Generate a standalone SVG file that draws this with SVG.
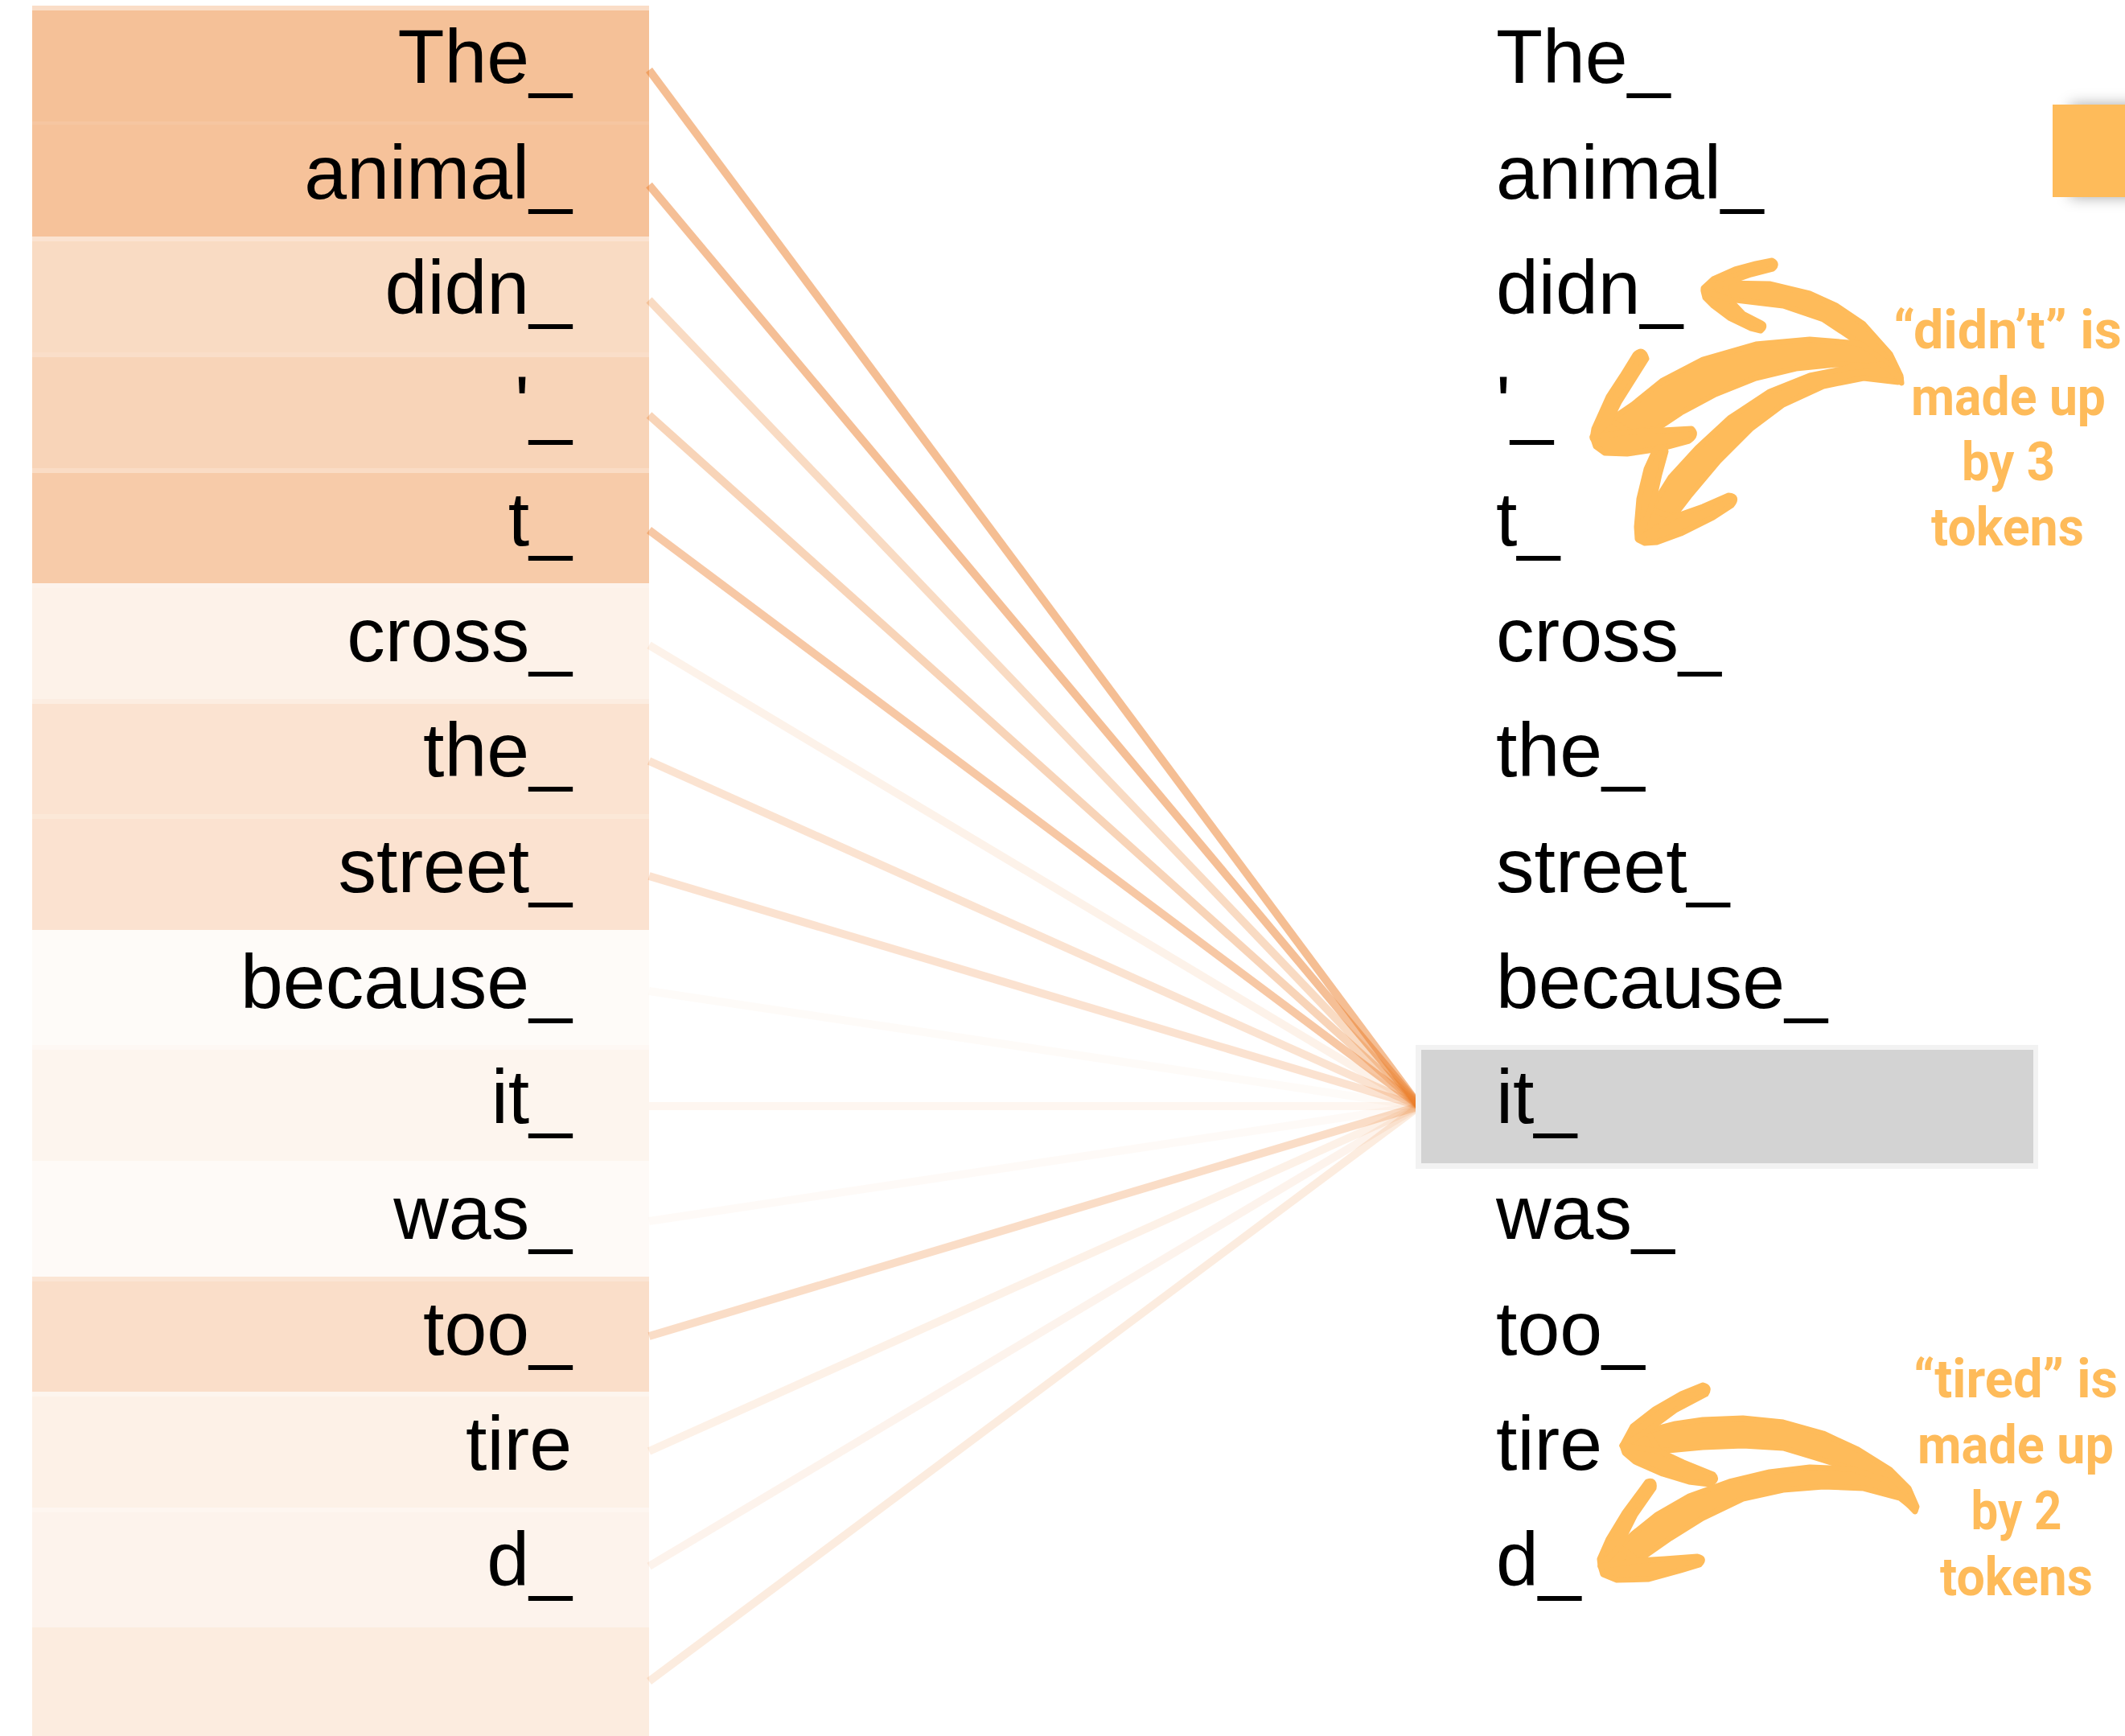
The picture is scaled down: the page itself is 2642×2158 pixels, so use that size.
<svg xmlns="http://www.w3.org/2000/svg" width="2642" height="2158" viewBox="0 0 2642 2158">
<defs>
<style>
.tok{font-family:"Liberation Sans",Arial,Helvetica,sans-serif;font-size:95px;fill:#000}
.tl{text-anchor:end}
.cell{fill:#EB7D28}
.att{stroke:#EB7D28;stroke-width:10;fill:none}
.note{font-family:Roboto,"Liberation Sans",Arial,sans-serif;font-weight:700;font-size:66px;fill:#FEBB5A;text-anchor:middle}
.arrow{fill:#FEBB5A;stroke:#FEBB5A;stroke-width:7;stroke-linejoin:round}
</style>
<filter id="shadow" x="-50%" y="-50%" width="200%" height="200%">
<feDropShadow dx="22" dy="0" stdDeviation="9" flood-color="#000" flood-opacity="0.35"/>
</filter>
</defs>
<rect width="2642" height="2158" fill="#fff"/>

<g id="attention-lines">
<line class="att" x1="807" y1="87" x2="1765" y2="1375" stroke-opacity="0.50"/>
<line class="att" x1="807" y1="230" x2="1765" y2="1375" stroke-opacity="0.49"/>
<line class="att" x1="807" y1="373" x2="1765" y2="1375" stroke-opacity="0.28"/>
<line class="att" x1="807" y1="516" x2="1765" y2="1375" stroke-opacity="0.33"/>
<line class="att" x1="807" y1="659" x2="1765" y2="1375" stroke-opacity="0.42"/>
<line class="att" x1="807" y1="802" x2="1765" y2="1375" stroke-opacity="0.10"/>
<line class="att" x1="807" y1="946" x2="1765" y2="1375" stroke-opacity="0.21"/>
<line class="att" x1="807" y1="1089" x2="1765" y2="1375" stroke-opacity="0.22"/>
<line class="att" x1="807" y1="1232" x2="1765" y2="1375" stroke-opacity="0.03"/>
<line class="att" x1="807" y1="1375" x2="1765" y2="1375" stroke-opacity="0.07"/>
<line class="att" x1="807" y1="1518" x2="1765" y2="1375" stroke-opacity="0.04"/>
<line class="att" x1="807" y1="1661" x2="1765" y2="1375" stroke-opacity="0.26"/>
<line class="att" x1="807" y1="1804" x2="1765" y2="1375" stroke-opacity="0.11"/>
<line class="att" x1="807" y1="1947" x2="1765" y2="1375" stroke-opacity="0.09"/>
<line class="att" x1="807" y1="2090" x2="1765" y2="1375" stroke-opacity="0.15"/>
</g>

<g id="left-tokens">
<g id="src-0"><rect class="cell" x="40" y="7" width="767" height="6" fill-opacity="0.26"/><rect class="cell" x="40" y="13" width="767" height="138" fill-opacity="0.48"/><text class="tok tl" x="711" y="103">The_</text></g>
<g id="src-1"><rect class="cell" x="40" y="151" width="767" height="4" fill-opacity="0.44"/><rect class="cell" x="40" y="155" width="767" height="139" fill-opacity="0.47"/><text class="tok tl" x="711" y="247">animal_</text></g>
<g id="src-2"><rect class="cell" x="40" y="294" width="767" height="6" fill-opacity="0.21"/><rect class="cell" x="40" y="300" width="767" height="138" fill-opacity="0.28"/><text class="tok tl" x="711" y="390">didn_</text></g>
<g id="src-3"><rect class="cell" x="40" y="438" width="767" height="6" fill-opacity="0.25"/><rect class="cell" x="40" y="444" width="767" height="138" fill-opacity="0.33"/><text class="tok tl" x="711" y="534">'_</text></g>
<g id="src-4"><rect class="cell" x="40" y="582" width="767" height="6" fill-opacity="0.27"/><rect class="cell" x="40" y="588" width="767" height="137" fill-opacity="0.40"/><text class="tok tl" x="711" y="678">t_</text></g>
<g id="src-5"><rect class="cell" x="40" y="725" width="767" height="6" fill-opacity="0.09"/><rect class="cell" x="40" y="731" width="767" height="138" fill-opacity="0.10"/><text class="tok tl" x="711" y="822">cross_</text></g>
<g id="src-6"><rect class="cell" x="40" y="869" width="767" height="6" fill-opacity="0.14"/><rect class="cell" x="40" y="875" width="767" height="137" fill-opacity="0.21"/><text class="tok tl" x="711" y="965">the_</text></g>
<g id="src-7"><rect class="cell" x="40" y="1012" width="767" height="6" fill-opacity="0.18"/><rect class="cell" x="40" y="1018" width="767" height="138" fill-opacity="0.22"/><text class="tok tl" x="711" y="1109">street_</text></g>
<g id="src-8"><rect class="cell" x="40" y="1156" width="767" height="6" fill-opacity="0.03"/><rect class="cell" x="40" y="1162" width="767" height="137" fill-opacity="0.03"/><text class="tok tl" x="711" y="1253">because_</text></g>
<g id="src-9"><rect class="cell" x="40" y="1299" width="767" height="6" fill-opacity="0.05"/><rect class="cell" x="40" y="1305" width="767" height="138" fill-opacity="0.08"/><text class="tok tl" x="711" y="1396">it_</text></g>
<g id="src-10"><rect class="cell" x="40" y="1443" width="767" height="6" fill-opacity="0.04"/><rect class="cell" x="40" y="1449" width="767" height="138" fill-opacity="0.04"/><text class="tok tl" x="711" y="1540">was_</text></g>
<g id="src-11"><rect class="cell" x="40" y="1587" width="767" height="6" fill-opacity="0.20"/><rect class="cell" x="40" y="1593" width="767" height="137" fill-opacity="0.25"/><text class="tok tl" x="711" y="1684">too_</text></g>
<g id="src-12"><rect class="cell" x="40" y="1730" width="767" height="6" fill-opacity="0.08"/><rect class="cell" x="40" y="1736" width="767" height="138" fill-opacity="0.11"/><text class="tok tl" x="711" y="1827">tire</text></g>
<g id="src-13"><rect class="cell" x="40" y="1874" width="767" height="6" fill-opacity="0.07"/><rect class="cell" x="40" y="1880" width="767" height="137" fill-opacity="0.09"/><text class="tok tl" x="711" y="1971">d_</text></g>
<g id="src-14"><rect class="cell" x="40" y="2017" width="767" height="6" fill-opacity="0.09"/><rect class="cell" x="40" y="2023" width="767" height="135" fill-opacity="0.15"/></g>
</g>

<g id="right-tokens">
<g id="dst-0"><text class="tok" x="1860" y="103">The_</text></g>
<g id="dst-1"><text class="tok" x="1860" y="247">animal_</text></g>
<g id="dst-2"><text class="tok" x="1860" y="390">didn_</text></g>
<g id="dst-3"><text class="tok" x="1860" y="534">'_</text></g>
<g id="dst-4"><text class="tok" x="1860" y="678">t_</text></g>
<g id="dst-5"><text class="tok" x="1860" y="822">cross_</text></g>
<g id="dst-6"><text class="tok" x="1860" y="965">the_</text></g>
<g id="dst-7"><text class="tok" x="1860" y="1109">street_</text></g>
<g id="dst-8"><text class="tok" x="1860" y="1253">because_</text></g>
<g id="dst-9"><rect x="1760" y="1299" width="774" height="154" fill="#F2F2F2"/><rect x="1767" y="1305" width="761" height="141" fill="#D3D3D3"/><text class="tok" x="1860" y="1396">it_</text></g>
<g id="dst-10"><text class="tok" x="1860" y="1540">was_</text></g>
<g id="dst-11"><text class="tok" x="1860" y="1684">too_</text></g>
<g id="dst-12"><text class="tok" x="1860" y="1827">tire</text></g>
<g id="dst-13"><text class="tok" x="1860" y="1971">d_</text></g>
</g>

<g id="corner-tab"><rect x="2552" y="130" width="140" height="115" fill="#FEBB5A" filter="url(#shadow)"/></g>

<g id="note-didnt">
<g class="arrow">
<path d="M2143,352 L2200,353 L2250,365 L2283,380 L2317,403 L2350,440 L2363,467 L2364,476 L2345,455 L2312,427 L2267,397 L2217,380 L2150,372 Z"/>
<path d="M2118,360 L2143,352 L2150,372 Z"/>
<path d="M2118,358 L2130,347 L2157,335 L2183,328 L2203,324 Q2211,328 2204,334 L2177,341 L2143,353 Z"/>
<path d="M2118,362 L2120,370 L2130,380 L2150,395 L2177,408 L2189,411 Q2196,405 2190,402 L2167,390 L2150,372 Z"/>
<path d="M2002,522 L2030,503 L2067,473 L2117,447 L2183,428 L2250,422 L2312,427 L2345,450 L2363,470 L2338,455 L2283,453 L2233,458 L2183,470 L2133,490 L2090,513 L2060,533 L2027,537 Z"/>
<path d="M1980,543 L2002,522 L2027,537 Z"/>
<path d="M1980,545 L1982,533 L2000,493 L2017,467 L2033,441 Q2043,431 2047,446 L2030,473 L2013,500 L2002,522 Z"/>
<path d="M1980,543 L1984,555 L1995,563 L2023,564 L2063,558 L2100,548 Q2111,540 2103,533 L2067,535 L2027,537 Z"/>
<path d="M2052,633 L2077,593 L2110,557 L2150,520 L2200,487 L2250,467 L2300,457 L2340,453 L2363,470 L2360,475 L2317,470 L2267,480 L2217,503 L2177,533 L2137,573 L2100,617 L2080,643 Z"/>
<path d="M2037,670 L2052,633 L2080,643 Z"/>
<path d="M2036,670 L2035,655 L2038,620 L2047,583 L2057,561 Q2064,550 2071,561 L2063,590 L2057,617 L2052,633 Z"/>
<path d="M2037,671 L2045,675 L2060,674 L2090,663 L2130,643 L2153,628 Q2162,617 2149,616 L2117,630 L2080,643 Z"/>
</g>
<text class="note" x="2496" y="433" textLength="284" lengthAdjust="spacingAndGlyphs">“didn’t” is</text>
<text class="note" x="2497" y="516" textLength="242" lengthAdjust="spacingAndGlyphs">made up</text>
<text class="note" x="2497" y="597" textLength="116" lengthAdjust="spacingAndGlyphs">by 3</text>
<text class="note" x="2496" y="678" textLength="190" lengthAdjust="spacingAndGlyphs">tokens</text>
</g>

<g id="note-tired">
<g class="arrow">
<path d="M2048,1779 L2083,1770 L2117,1765 L2167,1763 L2217,1768 L2267,1782 L2310,1802 L2350,1827 L2373,1850 L2383,1873 L2381,1879 L2345,1842 L2302,1826 L2257,1812 L2217,1800 L2167,1797 L2117,1799 L2063,1804 Z"/>
<path d="M2017,1797 L2048,1779 L2063,1804 Z"/>
<path d="M2017,1797 L2030,1773 L2057,1752 L2090,1733 L2117,1722 Q2127,1724 2121,1733 L2083,1753 L2060,1770 L2048,1779 Z"/>
<path d="M2017,1797 L2020,1806 L2033,1817 L2067,1832 L2100,1842 L2125,1845 Q2137,1840 2130,1833 L2093,1818 L2063,1804 Z"/>
<path d="M2013,1923 L2030,1907 L2060,1883 L2100,1860 L2150,1842 L2200,1830 L2250,1824 L2302,1826 L2345,1840 L2381,1877 L2362,1862 L2317,1850 L2267,1848 L2217,1852 L2167,1863 L2117,1887 L2077,1912 L2037,1940 Z"/>
<path d="M1990,1947 L2013,1923 L2037,1940 Z"/>
<path d="M1990,1947 L1989,1938 L2000,1913 L2020,1880 L2040,1853 L2048,1842 Q2058,1839 2056,1850 L2033,1883 L2013,1923 Z"/>
<path d="M1990,1947 L1993,1957 L2010,1964 L2050,1963 L2090,1952 L2113,1945 Q2121,1937 2110,1935 L2070,1938 L2037,1940 Z"/>
</g>
<text class="note" x="2506" y="1737" textLength="254" lengthAdjust="spacingAndGlyphs">“tired” is</text>
<text class="note" x="2506" y="1819" textLength="244" lengthAdjust="spacingAndGlyphs">made up</text>
<text class="note" x="2507" y="1901" textLength="113" lengthAdjust="spacingAndGlyphs">by 2</text>
<text class="note" x="2507" y="1983" textLength="190" lengthAdjust="spacingAndGlyphs">tokens</text>
</g>
</svg>
